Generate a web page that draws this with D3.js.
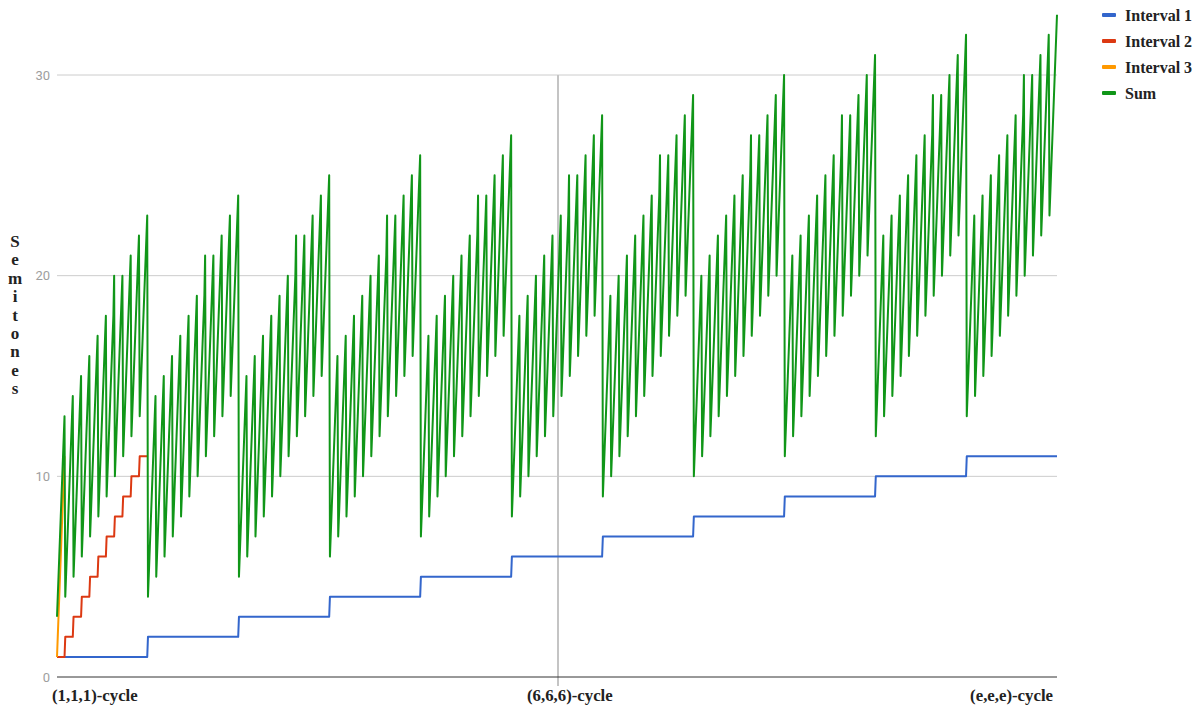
<!DOCTYPE html>
<html>
<head>
<meta charset="utf-8">
<script src="https://cdnjs.cloudflare.com/ajax/libs/d3/7.8.5/d3.min.js"></script>
<style>
  html, body { margin: 0; padding: 0; background: #fff; }
  svg { display: block; }
</style>
</head>
<body>
<div id="chart"></div>
<script>
// ---- data ----
const seriesNames = ["Interval 1", "Interval 2", "Interval 3", "Sum"];
const seriesColors = ["#3366cc", "#dc3912", "#ff9900", "#109618"];
// Interval 1 level of each of the 11 big blocks
const interval1Levels = [1, 2, 3, 4, 5, 6, 7, 8, 9, 10, 11];
// Interval 2 level of each of the 11 steps inside a block (drawn only for the first block)
const interval2Levels = [1, 2, 3, 4, 5, 6, 7, 8, 9, 10, 11];
// Interval 3 values of each sweep (drawn only for the first sweep)
const interval3Levels = [1, 2, 3, 4, 5, 6, 7, 8, 9, 10, 11];
// extra semitone seen at the top of the sweep for each Interval 2 step
const sumTopBump = [0, 0, 0, 0, 0, 0, 1, 0, 0, 0, 0];
const yTicks = [0, 10, 20, 30];
const xLabels = ["(1,1,1)-cycle", "(6,6,6)-cycle", "(e,e,e)-cycle"];
const xLabelIndex = [0, 665, 1330];
const markerIndex = 665;
const yTitle = "Semitones";

// ---- build table ----
const rows = [];
interval1Levels.forEach((a, ai) => {
  interval2Levels.forEach((b, bi) => {
    interval3Levels.forEach((c, ci) => {
      rows.push({
        idx: rows.length,
        v: [
          a,
          ai === 0 ? b : null,
          ai === 0 && bi === 0 ? c : null,
          a + b + c + (ci === interval3Levels.length - 1 ? sumTopBump[bi] : 0)
        ]
      });
    });
  });
});

const W = 1202, H = 711;
const svg = d3.select("#chart").append("svg").attr("width", W).attr("height", H);

const x = d3.scaleLinear().domain([0, rows.length - 1]).range([57, 1057]);
const y = d3.scaleLinear().domain([0, 30]).range([677, 75]);

// gridlines
svg.append("g").selectAll("line").data(yTicks.filter(t => t !== 0)).join("line")
  .attr("x1", x(0)).attr("x2", x(rows.length - 1))
  .attr("y1", d => y(d)).attr("y2", d => y(d))
  .attr("stroke", "#cccccc").attr("stroke-width", 1);

// vertical marker line
svg.append("line")
  .attr("x1", x(markerIndex) + 1).attr("x2", x(markerIndex) + 1)
  .attr("y1", y(30)).attr("y2", y(0) + 9)
  .attr("stroke", "#c4c4c4").attr("stroke-width", 2);

// y tick labels
svg.append("g").selectAll("text").data(yTicks).join("text")
  .attr("x", 50).attr("y", d => y(d) + 4.5)
  .attr("text-anchor", "end")
  .attr("font-family", "Roboto, Arial, sans-serif")
  .attr("font-size", 13)
  .attr("fill", "#9e9e9e")
  .text(d => d);

// series lines
seriesNames.forEach((name, si) => {
  const line = d3.line()
    .defined(d => d.v[si] !== null)
    .x(d => x(d.idx))
    .y(d => y(d.v[si]));
  svg.append("path")
    .datum(rows)
    .attr("d", line)
    .attr("fill", "none")
    .attr("stroke", seriesColors[si])
    .attr("stroke-width", 2)
    .attr("stroke-linejoin", "round");
});

// baseline
svg.append("line")
  .attr("x1", x(0)).attr("x2", x(rows.length - 1))
  .attr("y1", y(0)).attr("y2", y(0))
  .attr("stroke", "#333333").attr("stroke-width", 1);

// x labels
const serif = "'Liberation Serif', 'Times New Roman', serif";
const xLab = svg.append("g");
xLab.append("text").attr("x", x(xLabelIndex[0]) - 5).attr("y", 701)
  .attr("text-anchor", "start").text(xLabels[0]);
xLab.append("text").attr("x", x(xLabelIndex[1]) - 30).attr("y", 701)
  .attr("text-anchor", "start").text(xLabels[1]);
xLab.append("text").attr("x", x(xLabelIndex[2]) - 4).attr("y", 701)
  .attr("text-anchor", "end").text(xLabels[2]);
xLab.selectAll("text")
  .attr("font-family", serif).attr("font-weight", "bold")
  .attr("font-size", 16.8).attr("fill", "#222");

// y title: stacked letters
const yt = svg.append("text")
  .attr("font-family", serif).attr("font-weight", "bold")
  .attr("font-size", 17).attr("fill", "#222")
  .attr("text-anchor", "middle");
yTitle.split("").forEach((ch, i) => {
  yt.append("tspan").attr("x", 15).attr("y", 247 + i * 18.4).text(ch);
});

// legend
const lg = svg.append("g");
seriesNames.forEach((name, i) => {
  const cy = 15 + i * 26;
  lg.append("rect").attr("x", 1102).attr("y", cy - 2).attr("width", 14).attr("height", 4)
    .attr("rx", 1).attr("fill", seriesColors[i]);
  lg.append("text").attr("x", 1125).attr("y", cy + 5.5)
    .attr("font-family", serif).attr("font-weight", "bold")
    .attr("font-size", 16).attr("fill", "#222")
    .text(name);
});
</script>
</body>
</html>
